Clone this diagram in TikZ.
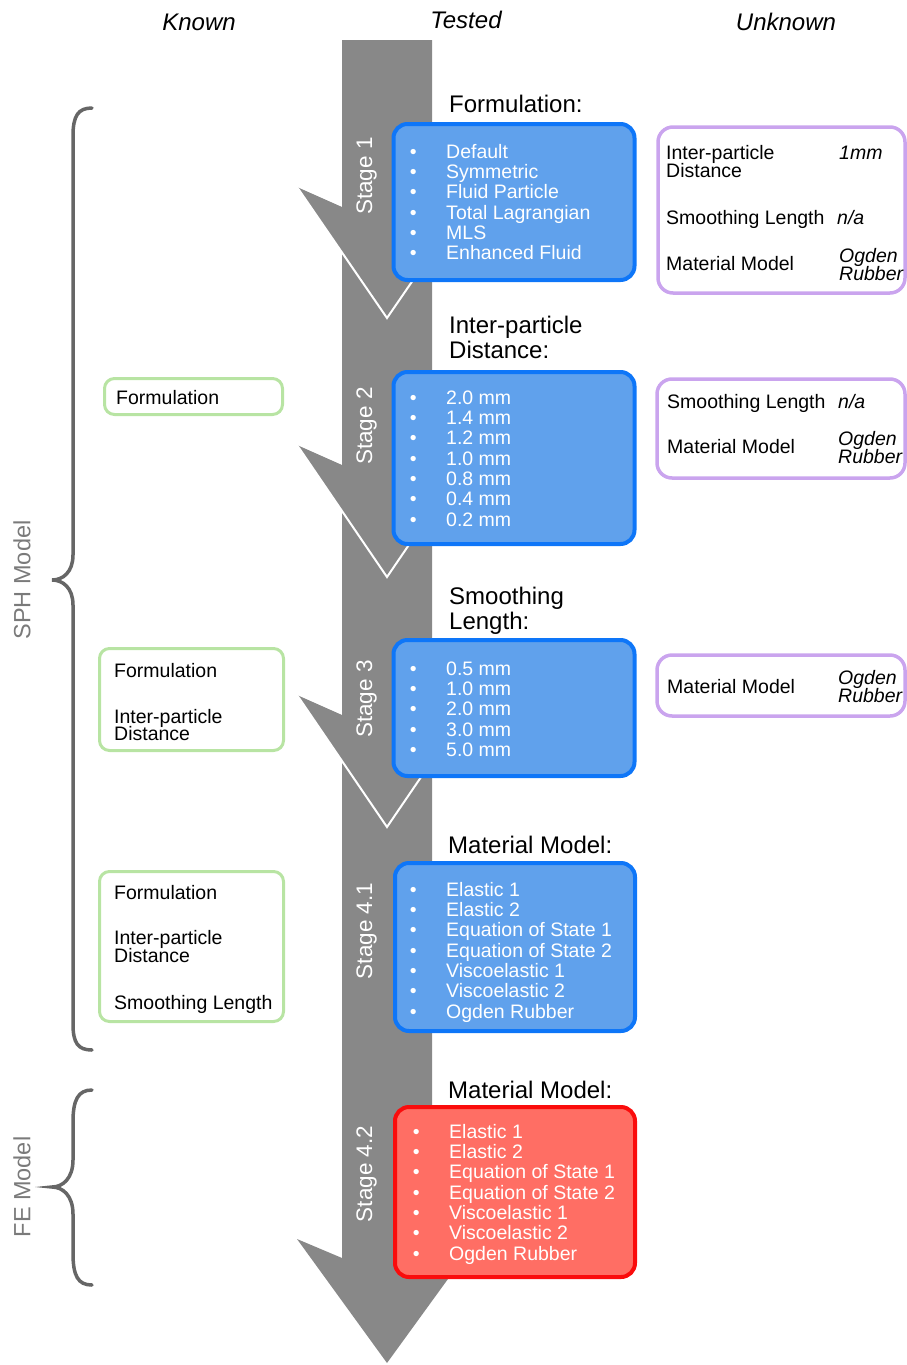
\documentclass[tikz,border=0pt]{standalone}
\usepackage{fontspec}
\setmainfont{Liberation Sans}
\usepackage{xcolor}
\definecolor{stagegray}{RGB}{136,136,136}
\definecolor{bracegray}{RGB}{102,102,102}
\definecolor{labelgray}{RGB}{122,122,122}
\definecolor{testedfill}{RGB}{96,161,236}
\definecolor{testedline}{RGB}{14,118,248}
\definecolor{fefill}{RGB}{255,110,100}
\definecolor{feline}{RGB}{250,12,12}
\definecolor{knownline}{RGB}{184,228,163}
\definecolor{unknownline}{RGB}{202,164,238}

\begin{document}
\begin{tikzpicture}[x=1pt,y=1pt]
\tikzstyle{every node}+=[inner sep=0pt]
\tikzstyle{colhead}=[font=\fontsize{24}{25}\selectfont\itshape, text height=17.2pt, text depth=0pt]
\tikzstyle{title}=[font=\fontsize{24}{25}\selectfont, anchor=west, text height=17.2pt, text depth=0pt]
\tikzstyle{entry}=[font=\fontsize{19.5}{18}\selectfont, anchor=west, text height=14pt, text depth=0pt]
\tikzstyle{value}=[entry, font=\fontsize{19.5}{18}\selectfont\itshape]
\tikzstyle{stagelbl}=[font=\fontsize{22.5}{24}\selectfont, text=white, rotate=90, text height=16.1pt, text depth=0pt]
\tikzstyle{modellbl}=[font=\fontsize{23.5}{24}\selectfont, text=labelgray, rotate=90, text height=16.8pt, text depth=0pt]
\tikzstyle{itemlist}=[font=\fontsize{19.5}{20.3}\selectfont, text=white, anchor=north west]
\tikzstyle{testedbox}=[draw=testedline, fill=testedfill, line width=4pt, rounded corners=14pt]
\tikzstyle{febox}=[draw=feline, fill=fefill, line width=4pt, rounded corners=14pt]
\tikzstyle{knownbox}=[draw=knownline, line width=3pt, rounded corners=10pt]
\tikzstyle{unknownbox}=[draw=unknownline, line width=3.5pt, rounded corners=15pt]
\tikzstyle{notch}=[white, line width=2pt]
\tikzstyle{brace}=[bracegray, line width=3.5pt, line cap=round]
\useasboundingbox (0,0) rectangle (907,-1365);
\draw (199,-22) node [colhead] (known) {Known};
\draw (466,-20) node [colhead] (tested) {Tested};
\draw (786,-22) node [colhead] (unknown) {Unknown};
\fill [stagegray] (342,-40) -- (432,-40) -- (432,-1258) -- (477,-1239) -- (387,-1363) -- (297,-1239) -- (342,-1258) -- cycle;
\fill [stagegray] (342,-715) -- (297,-695) -- (387,-827) -- (477,-695) -- (432,-715) -- cycle;
\draw [notch] (297,-695) -- (387,-827) -- (477,-695);
\fill [stagegray] (342,-465) -- (297,-445) -- (387,-577) -- (477,-445) -- (432,-465) -- cycle;
\draw [notch] (297,-445) -- (387,-577) -- (477,-445);
\fill [stagegray] (342,-207) -- (297,-187) -- (387,-318) -- (477,-187) -- (432,-207) -- cycle;
\draw [notch] (297,-187) -- (387,-318) -- (477,-187);
\draw (364,-176) node [stagelbl] (stageA) {Stage 1};
\draw (364,-426) node [stagelbl] (stageB) {Stage 2};
\draw (364,-699) node [stagelbl] (stageC) {Stage 3};
\draw (364,-931) node [stagelbl] (stageD) {Stage 4.1};
\draw (364,-1174) node [stagelbl] (stageE) {Stage 4.2};
\draw [brace] (92,-108) .. controls (78,-108) and (73,-116) .. (73,-136) -- (73,-555) .. controls (73,-572) and (63,-580) .. (52,-580) .. controls (63,-580) and (73,-588) .. (73,-605) -- (73,-1024) .. controls (73,-1043) and (78,-1050) .. (92,-1050);
\draw [brace] (92,-1090) .. controls (78,-1090) and (73,-1100) .. (73,-1122) -- (73,-1160) .. controls (73,-1178) and (63,-1187) .. (52,-1187) .. controls (63,-1187) and (73,-1196) .. (73,-1214) -- (73,-1253) .. controls (73,-1276) and (78,-1285) .. (92,-1285);
\draw (22,-580) node [modellbl] (sph) {SPH Model};
\draw (22,-1187) node [modellbl] (fe) {FE Model};
\draw [testedbox] (393.5,-124) rectangle (634.5,-280);
\draw [testedbox] (393.5,-372) rectangle (634.5,-544);
\draw [testedbox] (393.5,-640) rectangle (634.5,-776);
\draw [testedbox] (395,-863) rectangle (635,-1031);
\draw [febox] (395,-1107) rectangle (635,-1277);
\draw (449,-104) node [title] (formhead) {Formulation:};
\draw (449,-325) node [title] (disthead) {Inter-particle};
\draw (449,-350) node [title] (disthead2) {Distance:};
\draw (449,-596) node [title] (smoothhead) {Smoothing};
\draw (449,-621) node [title] (smoothhead2) {Length:};
\draw (448,-845) node [title] (mathead) {Material Model:};
\draw (448,-1090) node [title] (fehead) {Material Model:};
\draw (409.6,-143.8) node [itemlist] (formlist) {\begin{tabular}{@{}l@{\hspace{29.6pt}}l@{}}
\textbullet & Default\\
\textbullet & Symmetric\\
\textbullet & Fluid Particle\\
\textbullet & Total Lagrangian\\
\textbullet & MLS\\
\textbullet & Enhanced Fluid
\end{tabular}};
\draw (409.6,-389.8) node [itemlist] (distlist) {\begin{tabular}{@{}l@{\hspace{29.6pt}}l@{}}
\textbullet & 2.0 mm\\
\textbullet & 1.4 mm\\
\textbullet & 1.2 mm\\
\textbullet & 1.0 mm\\
\textbullet & 0.8 mm\\
\textbullet & 0.4 mm\\
\textbullet & 0.2 mm
\end{tabular}};
\draw (409.6,-660.8) node [itemlist] (smoothlist) {\begin{tabular}{@{}l@{\hspace{29.6pt}}l@{}}
\textbullet & 0.5 mm\\
\textbullet & 1.0 mm\\
\textbullet & 2.0 mm\\
\textbullet & 3.0 mm\\
\textbullet & 5.0 mm
\end{tabular}};
\draw (409.6,-881.8) node [itemlist] (matlist) {\begin{tabular}{@{}l@{\hspace{29.6pt}}l@{}}
\textbullet & Elastic 1\\
\textbullet & Elastic 2\\
\textbullet & Equation of State 1\\
\textbullet & Equation of State 2\\
\textbullet & Viscoelastic 1\\
\textbullet & Viscoelastic 2\\
\textbullet & Ogden Rubber
\end{tabular}};
\draw (412.6,-1123.8) node [itemlist] (felist) {\begin{tabular}{@{}l@{\hspace{29.6pt}}l@{}}
\textbullet & Elastic 1\\
\textbullet & Elastic 2\\
\textbullet & Equation of State 1\\
\textbullet & Equation of State 2\\
\textbullet & Viscoelastic 1\\
\textbullet & Viscoelastic 2\\
\textbullet & Ogden Rubber
\end{tabular}};
\draw [knownbox] (104.5,-378.5) rectangle (282.5,-414.5);
\draw (116,-397) node [entry] (knownA) {Formulation};
\draw [knownbox] (99.5,-648.5) rectangle (283.5,-750.5);
\draw (114,-670) node [entry] (knownB) {Formulation};
\draw (114,-716) node [entry] (knownB2) {Inter-particle};
\draw (114,-733) node [entry] (knownB3) {Distance};
\draw [knownbox] (99.5,-871.5) rectangle (283.5,-1021.5);
\draw (114,-892) node [entry] (knownC) {Formulation};
\draw (114,-937) node [entry] (knownC2) {Inter-particle};
\draw (114,-955) node [entry] (knownC3) {Distance};
\draw (114,-1002) node [entry] (knownC4) {Smoothing Length};
\draw [unknownbox] (658,-127) rectangle (905,-293);
\draw (666,-152) node [entry] (unknownA) {Inter-particle};
\draw (666,-170) node [entry] (unknownA2) {Distance};
\draw (839,-152) node [value] (valA) {1mm};
\draw (666,-217) node [entry] (unknownA3) {Smoothing Length};
\draw (837,-217) node [value] (valA2) {n/a};
\draw (666,-263) node [entry] (unknownA4) {Material Model};
\draw (839,-255) node [value] (valA3) {Ogden};
\draw (839,-273) node [value] (valA4) {Rubber};
\draw [unknownbox] (657,-379) rectangle (905,-478);
\draw (667,-401) node [entry] (unknownB) {Smoothing Length};
\draw (838,-401) node [value] (valB) {n/a};
\draw (667,-446) node [entry] (unknownB2) {Material Model};
\draw (838,-438) node [value] (valB2) {Ogden};
\draw (838,-456) node [value] (valB3) {Rubber};
\draw [unknownbox] (657,-655) rectangle (905,-716);
\draw (667,-686) node [entry] (unknownC) {Material Model};
\draw (838,-677) node [value] (valC) {Ogden};
\draw (838,-695) node [value] (valC2) {Rubber};
\end{tikzpicture}
\end{document}
